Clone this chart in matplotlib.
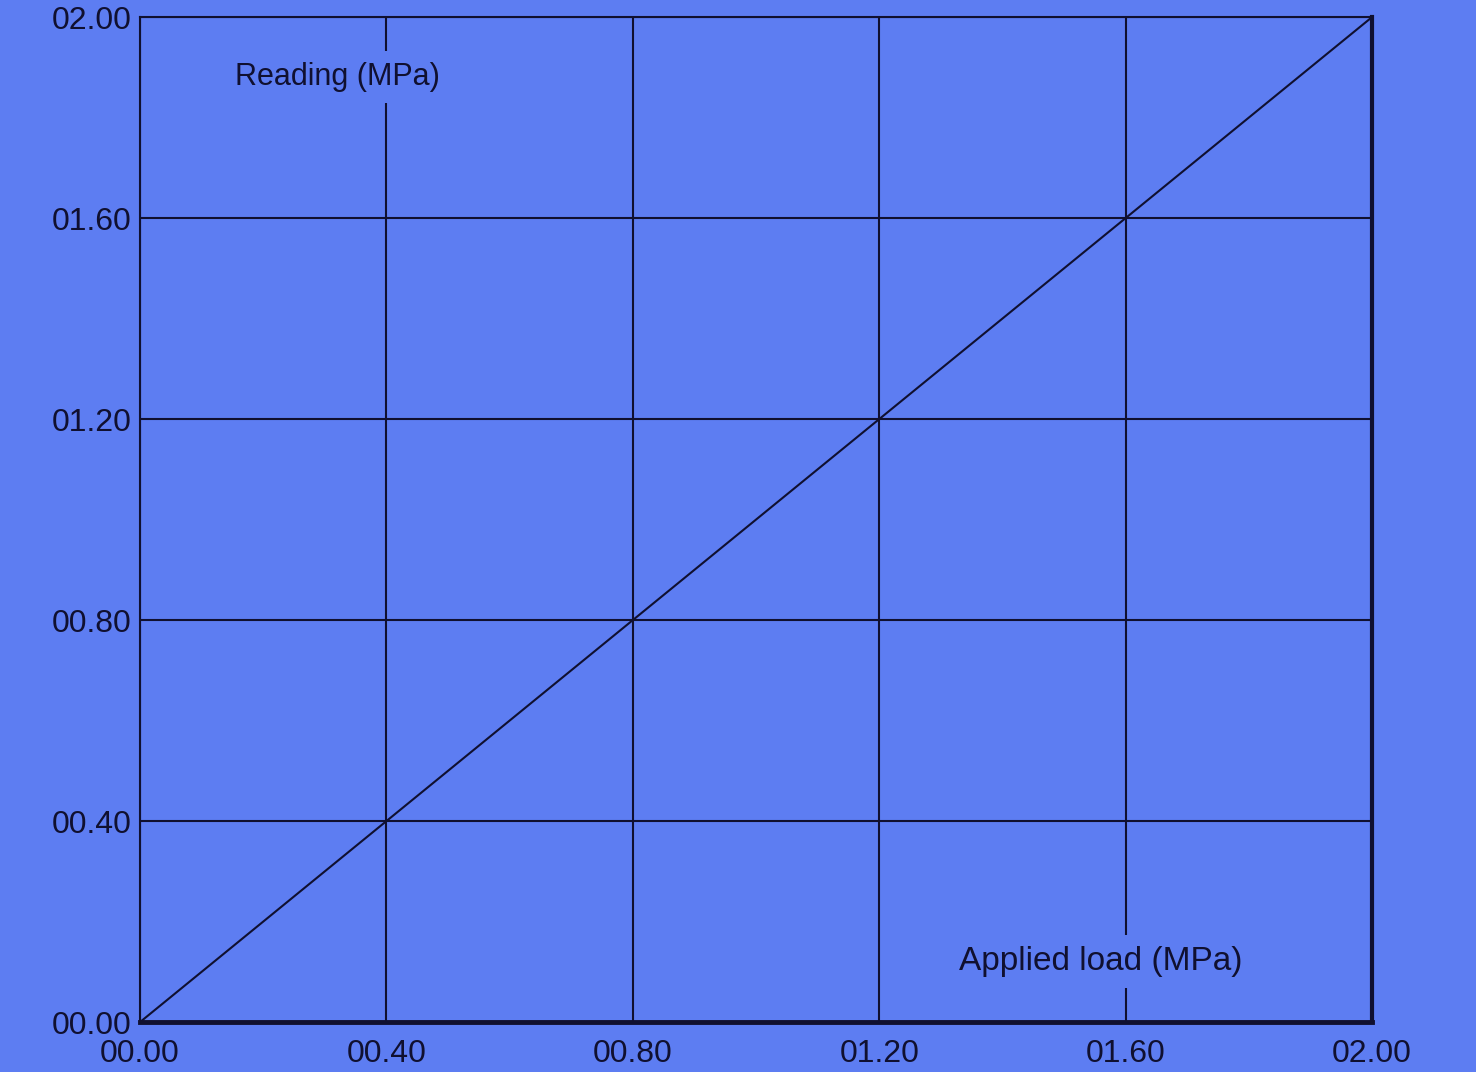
import matplotlib.pyplot as plt
from matplotlib.ticker import FuncFormatter

# calibration chart: reading vs applied load
applied_load = [0.0, 0.4, 0.8, 1.2, 1.6, 2.0]
reading = [0.0, 0.4, 0.8, 1.2, 1.6, 2.0]
tick_values = [0.0, 0.4, 0.8, 1.2, 1.6, 2.0]

bg = '#5d7df2'
ink = '#101030'

plt.rcParams['font.family'] = ['Liberation Sans', 'DejaVu Sans']

fig = plt.figure(figsize=(14.76, 10.72), dpi=100, facecolor=bg)
ax = fig.add_axes([0.0949, 0.0466, 0.8347, 0.9375])
ax.set_facecolor(bg)

ax.plot(applied_load, reading, color=ink, lw=1.5, zorder=3)

ax.set_xlim(0, 2.0)
ax.set_ylim(0, 2.0)
ax.set_xticks(tick_values)
ax.set_yticks(tick_values)
fmt = FuncFormatter(lambda v, p: f"{v:05.2f}")
ax.xaxis.set_major_formatter(fmt)
ax.yaxis.set_major_formatter(fmt)
ax.tick_params(length=0, labelsize=23, colors=ink)
ax.tick_params(axis='x', pad=12)
ax.tick_params(axis='y', pad=6)
ax.grid(True, color=ink, lw=1.5, zorder=1)

for side, w in [('bottom', 3.5), ('right', 3.0), ('left', 1.5), ('top', 1.5)]:
    ax.spines[side].set_linewidth(w)
    ax.spines[side].set_color(ink)

ax.text(0.16, 0.94, 'Reading (MPa)', transform=ax.transAxes, fontsize=22,
        color=ink, ha='center', va='center', zorder=4,
        bbox=dict(facecolor=bg, edgecolor='none', pad=8))
ax.text(0.78, 0.06, 'Applied load (MPa)', transform=ax.transAxes, fontsize=24,
        color=ink, ha='center', va='center', zorder=4,
        bbox=dict(facecolor=bg, edgecolor='none', pad=8))

fig.savefig('out.png', dpi=100, facecolor=bg)
